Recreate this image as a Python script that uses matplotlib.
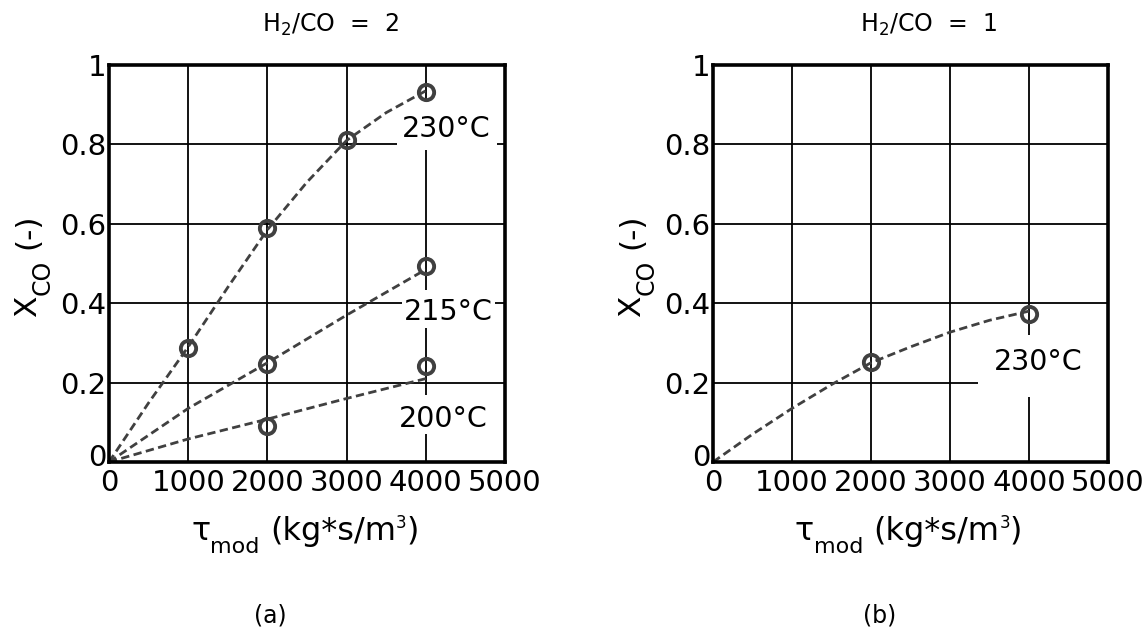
import matplotlib
matplotlib.use("Agg")
import matplotlib.pyplot as plt
from matplotlib.patches import Rectangle
from matplotlib.transforms import IdentityTransform, ScaledTranslation

plt.rcParams['font.family'] = ['DejaVu Sans']
plt.rcParams['mathtext.fontset'] = 'dejavusans'

# ---- data ----
tau_pts_230a = [1000, 2000, 3000, 4000]
x_pts_230a = [0.288, 0.589, 0.811, 0.933]
tau_pts_215a = [2000, 4000]
x_pts_215a = [0.247, 0.494]
tau_pts_200a = [2000, 4000]
x_pts_200a = [0.091, 0.242]

tau_fit_230a = [0, 500, 1000, 1500, 2000, 2500, 3000, 3500, 4000]
x_fit_230a = [0, 0.149, 0.29, 0.44, 0.585, 0.705, 0.81, 0.88, 0.935]
tau_fit_215a = [0, 1000, 2000, 3000, 4000]
x_fit_215a = [0, 0.135, 0.25, 0.37, 0.485]
tau_fit_200a = [0, 1000, 2000, 3000, 4000]
x_fit_200a = [0, 0.058, 0.108, 0.16, 0.21]

tau_pts_230b = [2000, 4000]
x_pts_230b = [0.251, 0.374]
tau_fit_230b = [0, 500, 1000, 1500, 2000, 2500, 3000, 3500, 4000]
x_fit_230b = [0, 0.07, 0.135, 0.195, 0.25, 0.29, 0.327, 0.357, 0.38]

xticks = [0, 1000, 2000, 3000, 4000, 5000]
yticks = [0, 0.2, 0.4, 0.6, 0.8, 1]
ytick_labels = ['0', '0.2', '0.4', '0.6', '0.8', '1']

W, H = 1147, 631
fig = plt.figure(figsize=(W / 100, H / 100), dpi=100)
renderer = fig.canvas.get_renderer()


def place_pieces(pieces, center, baseline, rot=0):
    """pieces: (text, size, shift_px, gap_after_px); pixel coords from bottom-left."""
    arts, lens = [], []
    for txt, size, shift, gap in pieces:
        t = fig.text(0, 0, txt, fontsize=size, rotation=rot, rotation_mode='anchor',
                     ha='left', va='baseline', transform=IdentityTransform())
        bb = t.get_window_extent(renderer)
        lens.append((bb.width if rot == 0 else bb.height) + gap)
        arts.append(t)
    total = sum(lens) - pieces[-1][3]
    pos = center - total / 2
    for t, p, L in zip(arts, pieces, lens):
        shift = p[2]
        if rot == 0:
            t.set_position((pos, baseline + shift))
        else:
            t.set_position((baseline - shift, pos))
        pos += L


def make_ax(x0, x1):
    ax = fig.add_axes([x0 / W, (H - 462) / H, (x1 - x0) / W, 397 / H])
    ax.set_xlim(0, 5000)
    ax.set_ylim(0, 1)
    ax.set_xticks(xticks)
    ax.set_xticklabels([str(t) for t in xticks])
    ax.set_yticks(yticks)
    ax.set_yticklabels(ytick_labels)
    ax.grid(True, color='black', linewidth=1.3)
    ax.set_axisbelow(True)
    ax.tick_params(length=0, labelsize=21)
    ax.tick_params(axis='x', pad=5)
    ax.tick_params(axis='y', pad=2)
    # raise the y "0" label a little, as in the original
    lbl0 = ax.get_yticklabels()[0]
    lbl0.set_transform(lbl0.get_transform() + ScaledTranslation(0, 7 / 100, fig.dpi_scale_trans))
    for s in ax.spines.values():
        s.set_linewidth(2.6)
        s.set_zorder(5)
    # axis labels built from pieces (large sub/superscripts)
    xc = (x0 + x1) / 2
    place_pieces([('τ', 23, 0, 0), ('mod', 16, -13, 10), ('(kg*s/m', 23, 0, 0),
                  ('3', 12, 12, 0), (')', 23, 0, 0)], xc - 2, H - 540)
    place_pieces([('X', 22.5, 0, 0), ('CO', 17, -14, 11), ('(-)', 22.5, 0, 0)],
                 H - 265, x0 - 73, rot=90)
    return ax


col = '#404040'
line_kw = dict(color=col, linestyle='--', linewidth=2, dashes=(3, 1.6), zorder=3)
mk_kw = dict(linestyle='none', marker='o', markersize=11, markerfacecolor='none',
             markeredgecolor=col, markeredgewidth=2.8, zorder=4)
lbl_kw = dict(fontsize=20.5, ha='center', va='baseline', zorder=2.5)
box_kw = dict(facecolor='white', edgecolor='none', zorder=2)

# left panel
axa = make_ax(109, 505)
axa.plot(tau_fit_230a, x_fit_230a, **line_kw)
axa.plot(tau_fit_215a, x_fit_215a, **line_kw)
axa.plot(tau_fit_200a, x_fit_200a, **line_kw)
axa.plot(tau_pts_230a, x_pts_230a, **mk_kw)
axa.plot(tau_pts_215a, x_pts_215a, **mk_kw)
axa.plot(tau_pts_200a, x_pts_200a, **mk_kw)
axa.add_patch(Rectangle((3636, 0.786), 1263, 0.12, **box_kw))
axa.add_patch(Rectangle((3700, 0.338), 1170, 0.095, **box_kw))
axa.add_patch(Rectangle((3650, 0.071), 1150, 0.098, **box_kw))
axa.text(4255, 0.819, '230°C', **lbl_kw)
axa.text(4287, 0.358, '215°C', **lbl_kw)
axa.text(4223, 0.088, '200°C', **lbl_kw)

# right panel
axb = make_ax(713, 1108)
axb.plot(tau_fit_230b, x_fit_230b, **line_kw)
axb.plot(tau_pts_230b, x_pts_230b, **mk_kw)
axb.add_patch(Rectangle((3354, 0.163), 1646, 0.157, **box_kw))
axb.text(4120, 0.231, '230°C', **lbl_kw)

title_kw = dict(fontsize=17, va='baseline')
fig.text(262 / W, 1 - 32 / H, r'H$_2$/CO  =  2', ha='left', **title_kw)
fig.text(860 / W, 1 - 32 / H, r'H$_2$/CO  =  1', ha='left', **title_kw)
fig.text(270 / W, 1 - 622 / H, '(a)', ha='center', **title_kw)
fig.text(880 / W, 1 - 622 / H, '(b)', ha='center', **title_kw)

fig.savefig('out.png', dpi=100, facecolor='white')
